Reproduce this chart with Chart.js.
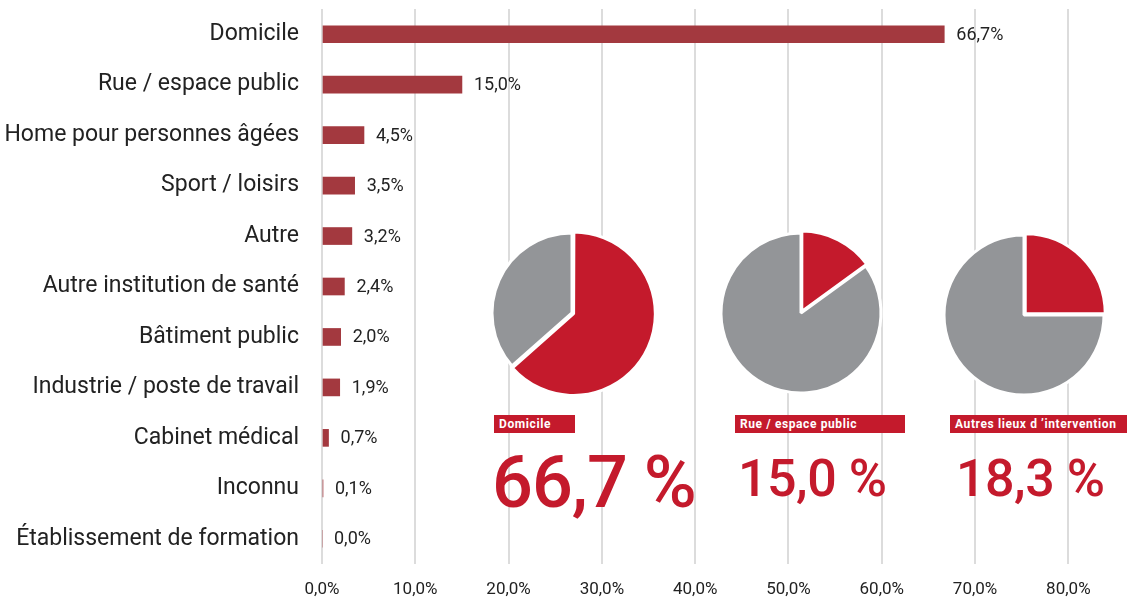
<!DOCTYPE html>
<html>
<head>
<meta charset="utf-8">
<script src="https://cdn.jsdelivr.net/npm/chart.js@4"></script>
<style>
  html, body { margin: 0; padding: 0; background: #fff; }
  #wrap { position: relative; width: 1135px; height: 603px; font-family: Roboto, sans-serif; }
  #bars { position: absolute; left: 0; top: 0; }
  .pie { position: absolute; }
  .tag { position: absolute; height: 18px; line-height: 18px; background: #c41a2c; color: #fff;
         font-size: 12px; font-weight: 700; letter-spacing: 0.6px; padding-left: 5px; box-sizing: border-box; }
  .big { position: absolute; color: #c41a2c; font-weight: 500; line-height: 1; white-space: nowrap; }
</style>
</head>
<body>
<div id="wrap">
  <canvas id="bars" width="1135" height="603"></canvas>
  <canvas class="pie" id="pie1" width="200" height="200" style="left:472px;top:213px"></canvas>
  <canvas class="pie" id="pie2" width="200" height="200" style="left:701px;top:213px"></canvas>
  <canvas class="pie" id="pie3" width="200" height="200" style="left:924px;top:215px"></canvas>
  <div class="tag" style="left:494px;top:415px;width:81px">Domicile</div>
  <div class="tag" style="left:735px;top:415px;width:170px">Rue / espace public</div>
  <div class="tag" style="left:950px;top:415px;width:177px">Autres lieux d ’intervention</div>
  <div class="big" id="big1" style="left:492px;top:447px;font-size:72px;letter-spacing:-1px"></div>
  <div class="big" id="big2" style="left:738px;top:453px;font-size:52px;letter-spacing:-0.5px"></div>
  <div class="big" id="big3" style="left:956px;top:453px;font-size:52px;letter-spacing:-0.5px"></div>
</div>
<script>
// Lieux d'intervention (en %)
const lieux = ['Domicile', 'Rue / espace public', 'Home pour personnes âgées', 'Sport / loisirs', 'Autre',
  'Autre institution de santé', 'Bâtiment public', 'Industrie / poste de travail', 'Cabinet médical',
  'Inconnu', 'Établissement de formation'];
const parts = [66.7, 15.0, 4.5, 3.5, 3.2, 2.4, 2.0, 1.9, 0.7, 0.1, 0.0];

// Camemberts (part rouge / reste)
const pieDomicile = [63.5, 36.5];
const pieRue = [15.0, 85.0];
const pieAutres = [25.0, 75.0];
const grosChiffres = ['66,7 %', '15,0 %', '18,3 %'];

const rouge = '#c41a2c';
const gris = '#939598';
const fmt = v => v.toFixed(1).replace('.', ',') + '%';

// Étiquettes de valeur au bout des barres
const valueLabels = {
  id: 'valueLabels',
  afterDatasetsDraw(chart) {
    const ctx = chart.ctx;
    const meta = chart.getDatasetMeta(0);
    ctx.save();
    ctx.font = '18px Roboto';
    ctx.fillStyle = '#222';
    ctx.textAlign = 'left';
    ctx.textBaseline = 'middle';
    meta.data.forEach((bar, i) => {
      ctx.fillText(fmt(parts[i]), bar.x + 12, bar.y + 1);
    });
    ctx.restore();
  }
};

new Chart(document.getElementById('bars'), {
  type: 'bar',
  data: {
    labels: lieux,
    datasets: [{
      data: parts,
      backgroundColor: '#a3393f',
      barThickness: 17
    }]
  },
  options: {
    indexAxis: 'y',
    responsive: false,
    animation: false,
    devicePixelRatio: 1,
    layout: { padding: { top: 9, right: 20, bottom: 0, left: 0 } },
    plugins: { legend: { display: false }, tooltip: { enabled: false } },
    scales: {
      x: {
        min: 0,
        max: 85,
        afterBuildTicks: s => { s.ticks = s.ticks.filter(t => t.value % 10 === 0); },
        afterFit: s => { s.height = 39; },
        grid: { color: '#dcdcdc', lineWidth: 2, drawTicks: false },
        border: { display: false },
        ticks: { stepSize: 10, padding: 16, color: '#222', font: { family: 'Roboto', size: 17 }, callback: v => fmt(v) }
      },
      y: {
        afterFit: s => { s.width = 322; s.paddingTop = 0; s.paddingBottom = 0; },
        grid: { display: false, drawTicks: false },
        border: { display: false },
        ticks: { padding: 23, color: '#222', font: { family: 'Roboto', size: 23 } }
      }
    }
  },
  plugins: [valueLabels]
});

function pie(id, values) {
  new Chart(document.getElementById(id), {
    type: 'pie',
    data: {
      labels: ['part', 'reste'],
      datasets: [{
        data: values,
        backgroundColor: [rouge, gris],
        borderColor: '#fff',
        borderWidth: 3,
        offset: [7, 0]
      }]
    },
    options: {
      responsive: false,
      animation: false,
      devicePixelRatio: 1,
      radius: 80,
      plugins: { legend: { display: false }, tooltip: { enabled: false } }
    }
  });
}
pie('pie1', pieDomicile);
pie('pie2', pieRue);
pie('pie3', pieAutres);

document.getElementById('big1').textContent = grosChiffres[0];
document.getElementById('big2').textContent = grosChiffres[1];
document.getElementById('big3').textContent = grosChiffres[2];
</script>
</body>
</html>
